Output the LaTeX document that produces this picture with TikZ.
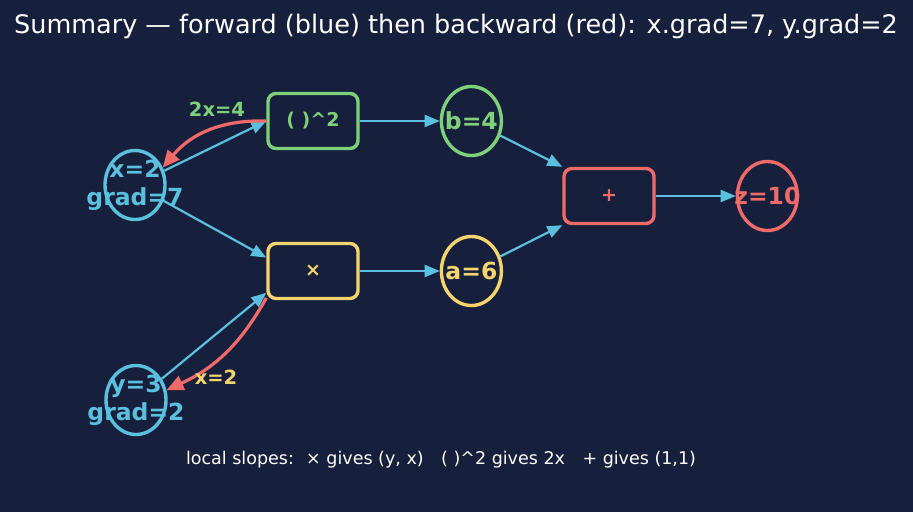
\documentclass[tikz,border=0pt]{standalone}
\usepackage{fontspec}
\setmainfont{DejaVu Sans}
\usepackage{xcolor}
\usetikzlibrary{shapes.geometric, arrows.meta, positioning}
\definecolor{bgnavy}{HTML}{16203C}
\definecolor{fwd}{HTML}{5BC0DE}
\definecolor{sqgreen}{HTML}{7ED07A}
\definecolor{mulyellow}{HTML}{F5D46E}
\definecolor{bwd}{HTML}{F06A6A}

\begin{document}
\begin{tikzpicture}[x=1pt, y=-1pt,
    val/.style={ellipse, draw=#1, line width=3.4pt, minimum width=60pt,
                minimum height=69pt, inner sep=0pt},
    valtxt/.style={text=#1, font=\fontsize{23.5}{28}\selectfont\bfseries,
                   align=center, inner sep=0pt},
    op/.style={rectangle, draw=#1, text=#1, line width=3.4pt, rounded corners=8pt,
               minimum width=90pt, minimum height=55pt,
               font=\fontsize{19}{22}\selectfont\bfseries},
    fw/.style={-{Triangle[length=15pt, width=12pt]}, line width=2.2pt, fwd},
    bw/.style={-{Triangle[length=17pt, width=15pt]}, line width=3.2pt, bwd},
    grd/.style={text=#1, font=\fontsize{19.5}{22}\selectfont\bfseries, inner sep=0pt},
]
    \fill[bgnavy] (0,0) rectangle (913,512);
    \useasboundingbox (0,0) rectangle (913,512);

    \node[text=white, font=\fontsize{25.5}{30}\selectfont] (title) at (456,26)
        {Summary — forward (blue) then backward (red): x.grad=7, y.grad=2};

    % inputs
    \node[val=fwd] (x) at (135,185) {};
    \node[valtxt=fwd] (xt) at (x.center) {x=2\\grad=7};
    \node[val=fwd] (y) at (136,400) {};
    \node[valtxt=fwd] (yt) at (y.center) {y=3\\grad=2};

    % operations and values
    \node[op=sqgreen] (sq) at (313,121) {( )\textasciicircum 2};
    \node[op=mulyellow] (mul) at (313,271) {×};
    \node[val=sqgreen, right=80pt of sq] (b) {};
    \node[valtxt=sqgreen] (bt) at (b.center) {b=4};
    \node[val=mulyellow, right=80pt of mul] (a) {};
    \node[valtxt=mulyellow] (at) at (a.center) {a=6};
    \node[op=bwd] (plus) at (609,196) {+};
    \node[val=bwd, right=80pt of plus] (z) {};
    \node[valtxt=bwd] (zt) at (z.center) {z=10};

    % forward pass
    \draw[fw] (x) -- (sq.west);
    \draw[fw] (x) -- (mul.164);
    \draw[fw] (y) -- (mul.205);
    \draw[fw] (sq) -- (b);
    \draw[fw] (mul) -- (a);
    \draw[fw] (b) -- (plus.north west);
    \draw[fw] (a) -- (plus.south west);
    \draw[fw] (plus) -- (z);

    % backward pass
    \draw[bw] (sq.west) to[bend right=26] (x.32);
    \draw[bw] (mul.210) to[bend left=18] (y.18);
    \node[grd=sqgreen] (g1) at (217,109) {2x=4};
    \node[grd=mulyellow] (g2) at (216,377) {x=2};

    \node[text=white, font=\fontsize{17.5}{21}\selectfont] (note) at (441,460)
        {local slopes:\hspace{0.7em}× gives (y, x)\hspace{1em}( )\textasciicircum 2 gives 2x\hspace{1em}+ gives (1,1)};
\end{tikzpicture}
\end{document}
